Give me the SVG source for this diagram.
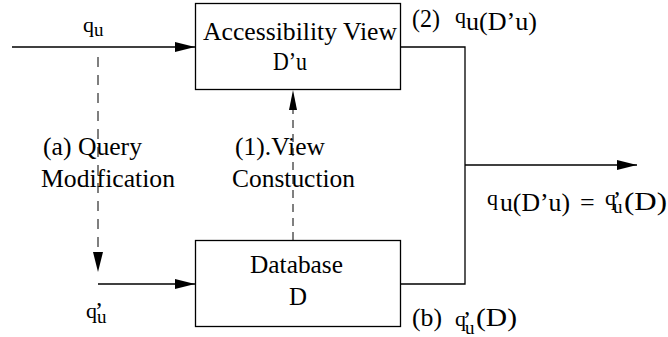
<svg xmlns="http://www.w3.org/2000/svg" width="668" height="337" viewBox="0 0 668 337">
<style>
text{font-family:"Liberation Serif","Times New Roman",serif;font-size:26px;fill:#000}
.q{font-size:22px}
.sm{font-size:19px}
.pr{font-size:24px}
.box{fill:#fff;stroke:#000;stroke-width:1.3}
.ln{fill:none;stroke:#000;stroke-width:1.3}
.dA{fill:none;stroke:#555;stroke-width:1.5;stroke-dasharray:10 8}
.dB{fill:none;stroke:#000;stroke-width:1;stroke-dasharray:8 6}
</style>
<defs>
<marker id="ah" markerWidth="20" markerHeight="10" refX="20" refY="5" orient="auto" markerUnits="userSpaceOnUse">
<path d="M0,0 L20,5 L0,10 Z" fill="#000"/>
</marker>
</defs>
<g id="connectors">
<line class="ln" x1="12" y1="47" x2="195" y2="47" marker-end="url(#ah)"/>
<line class="ln" x1="98" y1="284" x2="195" y2="284" marker-end="url(#ah)"/>
<line class="dA" x1="98" y1="57" x2="98" y2="254"/>
<path d="M93,252 L98,272 L103,252 Z" fill="#000"/>
<line class="dB" x1="293" y1="240" x2="293" y2="110"/>
<path d="M289,110 L293,90 L297,110 Z" fill="#000"/>
<polyline class="ln" points="401,47 465,47 465,284 401,284"/>
<line class="ln" x1="465" y1="165" x2="637" y2="165" marker-end="url(#ah)"/>
</g>
<g id="view">
<rect class="box" x="195.5" y="3.5" width="205" height="86"/>
<text x="203" y="40" textLength="194" lengthAdjust="spacingAndGlyphs">Accessibility View</text>
<text x="273" y="70" textLength="34" lengthAdjust="spacingAndGlyphs">D’u</text>
</g>
<g id="database">
<rect class="box" x="195.5" y="240.5" width="205" height="86"/>
<text x="250" y="273" textLength="93" lengthAdjust="spacingAndGlyphs">Database</text>
<text x="289" y="305" textLength="18" lengthAdjust="spacingAndGlyphs">D</text>
</g>
<g id="labels">
<text class="q" x="83" y="32">q<tspan class="sm" x="94" y="36">u</tspan></text>
<text x="43" y="155" textLength="99" lengthAdjust="spacingAndGlyphs">(a) Query</text>
<text x="41" y="187" textLength="134" lengthAdjust="spacingAndGlyphs">Modification</text>
<text x="235" y="155" textLength="90" lengthAdjust="spacingAndGlyphs">(1).View</text>
<text x="232" y="187" textLength="123" lengthAdjust="spacingAndGlyphs">Constuction</text>
<text class="q" x="86" y="318">q<tspan class="pr" x="95" y="318">’</tspan><tspan class="sm" x="97" y="323">u</tspan></text>
<text x="412" y="27" textLength="28" lengthAdjust="spacingAndGlyphs">(2)</text>
<text class="q" x="455" y="23">q<tspan style="font-size:26px" x="466" y="30" textLength="71" lengthAdjust="spacingAndGlyphs">u(D’u)</tspan></text>
<text class="q" x="487" y="205">q<tspan style="font-size:26px" x="500" y="211" textLength="70" lengthAdjust="spacingAndGlyphs">u(D’u)</tspan></text>
<text x="580" y="211">=</text>
<text class="q" x="605" y="205">q<tspan class="pr" x="613" y="207">’</tspan><tspan class="sm" x="613" y="213">u</tspan><tspan style="font-size:26px" x="624" y="210" textLength="43" lengthAdjust="spacingAndGlyphs">(D)</tspan></text>
<text x="412" y="326" textLength="30" lengthAdjust="spacingAndGlyphs">(b)</text>
<text class="q" x="455" y="326">q<tspan class="pr" x="463" y="327">’</tspan><tspan class="sm" x="465" y="334">u</tspan><tspan style="font-size:26px" x="476" y="326" textLength="41" lengthAdjust="spacingAndGlyphs">(D)</tspan></text>
</g>
</svg>
